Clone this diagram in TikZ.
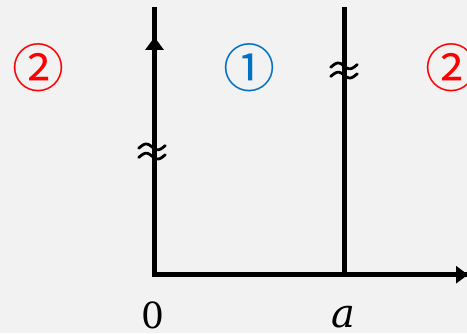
\documentclass[tikz,border=0pt]{standalone}
\usepackage{fontspec}
\newfontfamily\cjk{Noto Sans CJK JP}
\newfontfamily\dserif{DejaVu Serif}
\usetikzlibrary{arrows.meta}
\definecolor{bg}{HTML}{F2F2F2}
\definecolor{numred}{HTML}{FF0000}
\definecolor{numblue}{HTML}{0070C0}
\tikzset{
  axis/.style={line width=4.5pt, black},
  wave/.style={line width=2.8pt, line cap=round, black},
  circnum/.style={font=\cjk\fontsize{52}{52}\selectfont, inner sep=0pt},
  lab/.style={inner sep=0pt},
  brk/.pic={
    \draw[wave, shift={(0,4.6)}] plot[domain=-3.6:3.6, samples=40] ({\x*3.7}, {-2.9*sin(\x r)});
    \draw[wave, shift={(0,-4.6)}] plot[domain=-3.6:3.6, samples=40] ({\x*3.7}, {-2.9*sin(\x r)});
  }
}
\begin{document}
\begin{tikzpicture}[x=1pt,y=1pt]
  \fill[bg] (0,0) rectangle (467,333);
  \useasboundingbox (0,0) rectangle (467,333);
  \coordinate (O) at (154.5,58.3);
  \coordinate (A) at (344.5,58.3);
  \coordinate (Otop) at (154.5,326);
  \coordinate (Atop) at (344.5,326);
  \coordinate (Xend) at (468,58.3);
  \coordinate (Ytip) at (154.5,296);
  % axes
  \draw[axis] (Otop) -- (O) -- (Xend |- O);
  \draw[axis] (A) -- (Atop);
  \draw[axis, -{Triangle[length=12pt,width=17pt]}] (O) -- (Xend);
  \draw[axis, -{Triangle[length=13pt,width=18pt]}] (O) -- (Ytip);
  % breaks
  \pic at (152,181.5) {brk};
  \pic at (344,262.5) {brk};
  % labels
  \node[lab, font=\dserif\fontsize{36}{36}\selectfont] (zero) at (153,18) {0};
  \node[lab, font=\dserif\fontsize{40}{40}\selectfont\itshape] (alab) at (343.5,16) {a};
  \node[circnum, text=numred] (r2l) at (38.5,265) {②};
  \node[circnum, text=numblue] (r1) at (249,265) {①};
  \node[circnum, text=numred] (r2r) at (451,265) {②};
\end{tikzpicture}
\end{document}
